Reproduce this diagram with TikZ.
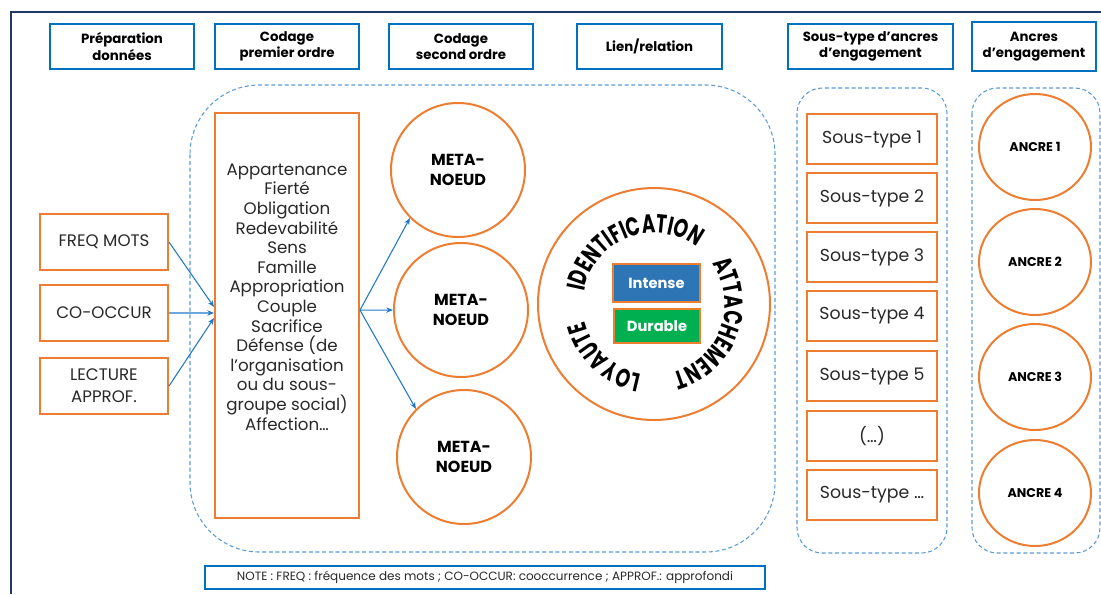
\documentclass[tikz,border=0pt]{standalone}
\usepackage{fontspec}
\setmainfont{Poppins}
\newfontfamily\arcfont[FakeStretch=0.7]{Poppins}
\usepackage{tikz}
\usetikzlibrary{shapes,arrows,arrows.meta,positioning,decorations.text}

\definecolor{hdrblue}{RGB}{0,112,192}
\definecolor{dashblue}{RGB}{91,155,213}
\definecolor{arrblue}{RGB}{30,120,200}
\definecolor{orng}{RGB}{237,125,49}
\definecolor{framec}{RGB}{32,56,100}
\definecolor{intblue}{RGB}{46,117,182}
\definecolor{durgreen}{RGB}{0,176,80}
\definecolor{txtgray}{RGB}{40,40,40}

\tikzset{
  header/.style={draw=hdrblue, line width=1.4pt, inner sep=0pt, minimum width=108pt, minimum height=33.75pt, align=center, font=\fontsize{10}{12.5}\selectfont\bfseries},
  orbox/.style={draw=orng, line width=1.5pt, inner sep=0pt, align=center, text=txtgray, font=\fontsize{12.5}{16.5}\selectfont},
  srcbox/.style={orbox, minimum width=96pt, minimum height=42pt},
  subbox/.style={orbox, minimum width=97.5pt, minimum height=37.5pt, font=\fontsize{13}{15}\selectfont},
  meta/.style={circle, draw=orng, line width=1.5pt, minimum size=100.5pt, inner sep=0pt, align=center, font=\fontsize{12}{15}\selectfont\bfseries},
  ancre/.style={ellipse, draw=orng, line width=1.5pt, minimum width=84pt, minimum height=79.5pt, inner sep=0pt, font=\fontsize{9.5}{11}\selectfont\bfseries},
  tag/.style={draw=orng, line width=1pt, text=white, inner sep=0pt, font=\fontsize{11}{13}\selectfont\bfseries},
  grp/.style={draw=dashblue, densely dashed, line width=0.8pt},
  link/.style={draw=arrblue, line width=0.8pt, -{Stealth[length=5pt,width=4pt]}},
  arctext/.style={decorate, decoration={text along path, text align=center, text={|\arcfont\bfseries\fontsize{19.5}{19.5}\selectfont|#1}}}
}

\begin{document}
\begin{tikzpicture}[x=0.75pt,y=0.75pt]
\useasboundingbox (0,0) rectangle (1101,-594);

% frame
\draw[framec, line width=1.5pt] (11,-594) -- (11,-12) -- (1101,-12);

% column headers
\node[header] (hprep) at (122,-46.5) {Préparation\\données};
\node[header] (hfirst) at (287,-46.5) {Codage\\premier ordre};
\node[header] (hsecond) at (461,-46.5) {Codage\\second ordre};
\node[header, minimum width=108.75pt] (hlink) at (649.5,-46.5) {Lien/relation};
\node[header, minimum width=123.75pt] (hsub) at (870.5,-46.5) {Sous-type d’ancres\\d’engagement};
\node[header, minimum width=93pt, minimum height=36.75pt] (hanc) at (1034,-46.5) {Ancres\\d’engagement};

% dashed groups
\draw[grp, rounded corners=52pt] (190,-85) rectangle (775,-552);
\draw[grp, rounded corners=19pt] (797,-88) rectangle (947,-553);
\draw[grp, rounded corners=19pt] (972,-88) rectangle (1100,-553);

% data preparation
\node[srcbox] (freq) at (104,-242) {FREQ MOTS};
\node[srcbox] (cooc) at (104,-313) {CO-OCCUR};
\node[srcbox] (lect) at (104,-386) {LECTURE\\APPROF.};

% first order coding
\node[orbox, minimum width=108pt, minimum height=303.75pt] (list) at (287,-315.5) {};
\node[text=txtgray, align=center, font=\fontsize{12.5}{14.7}\selectfont] (listtxt) at (287,-297)
  {Appartenance\\Fierté\\Obligation\\Redevabilité\\Sens\\Famille\\Appropriation\\Couple\\Sacrifice\\Défense (de\\l’organisation\\ou du sous-\\groupe social)\\Affection…};

% second order coding
\node[meta] (meta1) at (458,-170) {META-\\NOEUD};
\node[meta] (meta2) at (461,-310) {META-\\NOEUD};
\node[meta] (meta3) at (464,-457) {META-\\NOEUD};

% link / relation
\node[circle, draw=orng, line width=1.5pt, minimum size=174pt] (lien) at (654,-304) {};
\node[tag, fill=intblue, minimum width=65.25pt, minimum height=28.5pt] (intense) at (656.5,-283) {Intense};
\node[tag, fill=durgreen, minimum width=64.5pt, minimum height=25.5pt] (durable) at (657,-326) {Durable};
\path[arctext=IDENTIFICATION] (lien.center) ++(181.5:71) arc[start angle=181.5, end angle=41.5, radius=71];
\path[arctext=ATTACHEMENT] (lien.center) ++(50:71) arc[start angle=50, end angle=-90, radius=71];
\path[arctext=LOYAUTE] (lien.center) ++(297:71) arc[start angle=297, end angle=157, radius=71];

% sub-types
\foreach \i/\y/\t in {1/139/Sous-type 1, 2/198/Sous-type 2, 3/257/Sous-type 3, 4/316/Sous-type 4, 5/376/Sous-type 5, 6/436/(…), 7/495/Sous-type …}
  \node[subbox] (sub\i) at (872,-\y) {\t};

% anchors
\foreach \i/\y in {1/147, 2/262, 3/377, 4/493}
  \node[ancre] (ancre\i) at (1035,-\y) {ANCRE \i};

% note
\node[draw=hdrblue, line width=0.8pt, minimum width=420pt, minimum height=17.25pt, inner sep=0pt, text=txtgray, font=\fontsize{9}{11}\selectfont] (note) at (485,-577.5)
  {NOTE : FREQ : fréquence des mots ; CO-OCCUR: cooccurrence ; APPROF.: approfondi};

% arrows
\draw[link] (freq.east) -- ([yshift=6.4pt]list.west);
\draw[link] (cooc.east) -- ([yshift=1.9pt]list.west);
\draw[link] (lect.east) -- ([yshift=-1.9pt]list.west);
\draw[link] ([yshift=4pt]list.east) -- (meta1.225);
\draw[link] ([yshift=4pt]list.east) -- (meta2.west);
\draw[link] ([yshift=4pt]list.east) -- (meta3.135);

\end{tikzpicture}
\end{document}
